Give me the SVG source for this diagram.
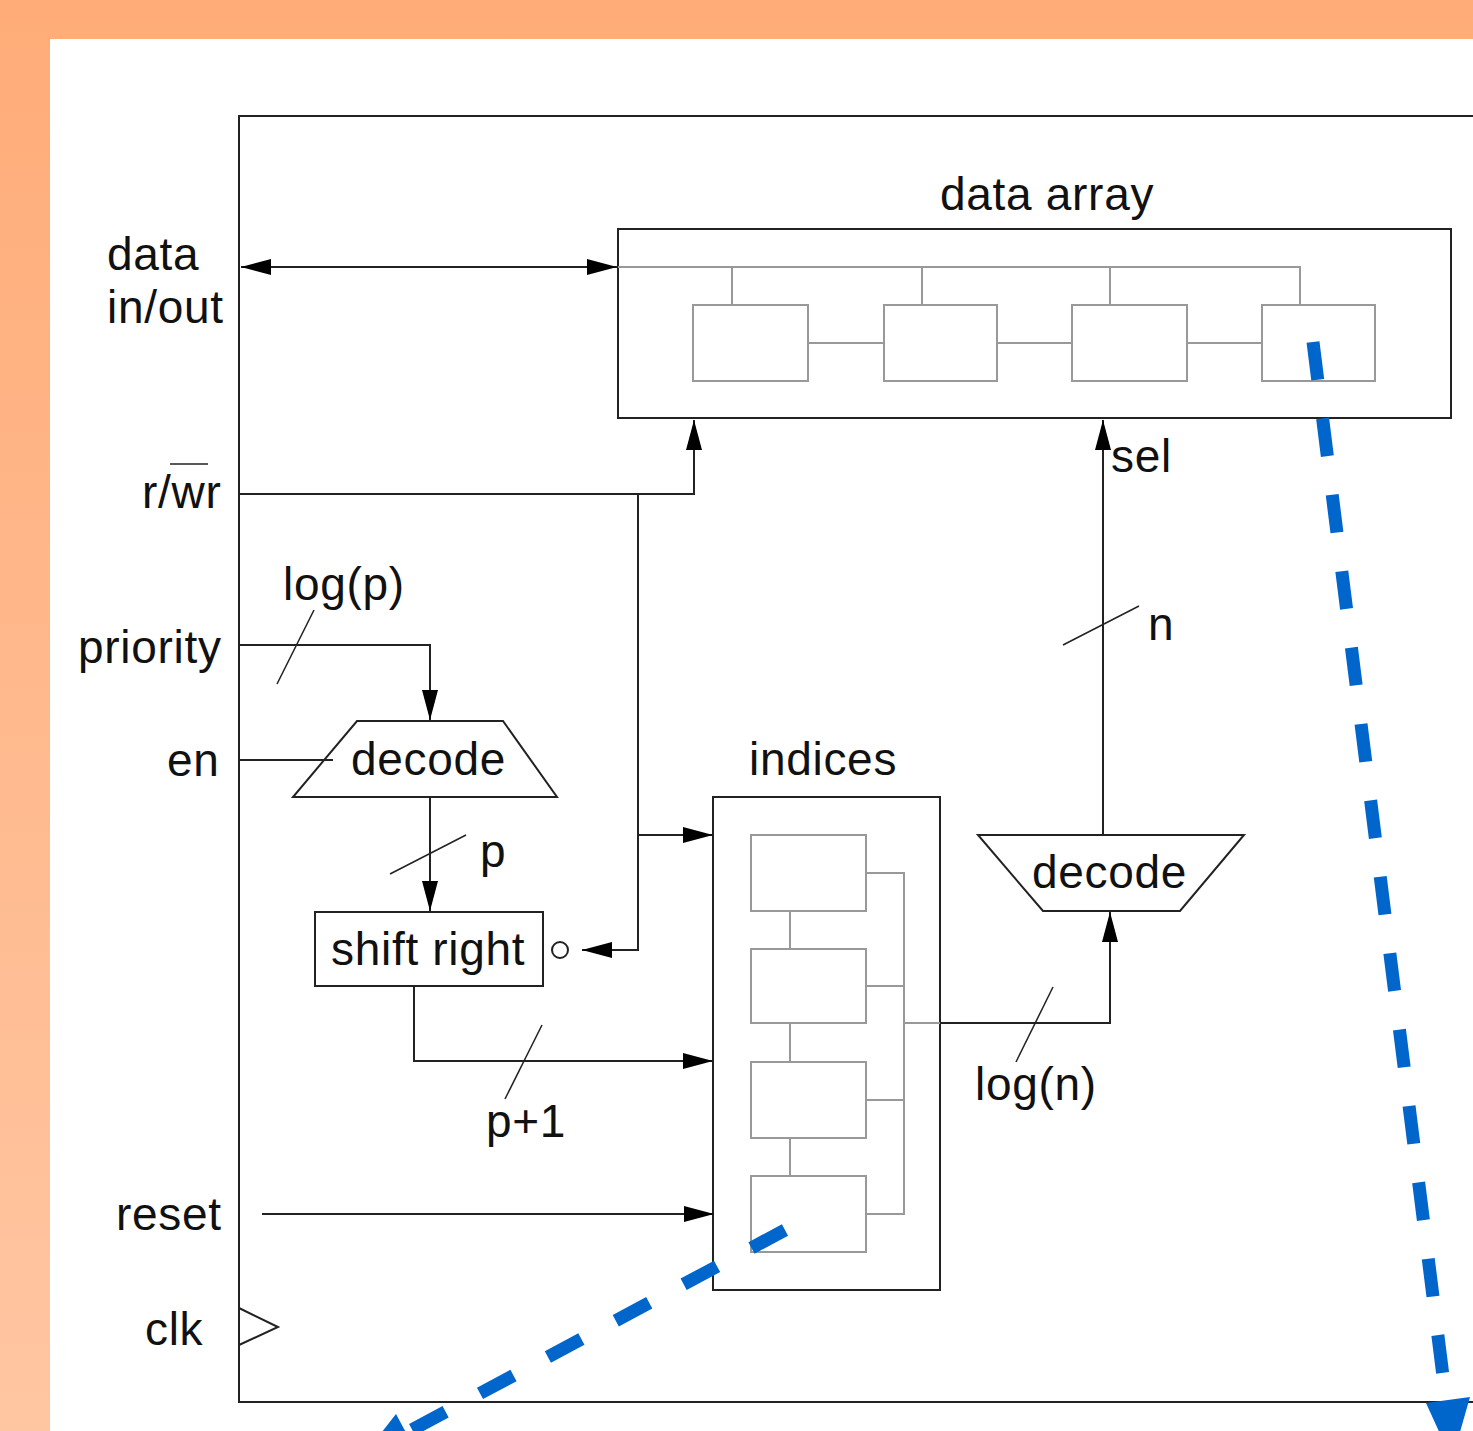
<svg xmlns="http://www.w3.org/2000/svg" width="1473" height="1431" viewBox="0 0 1473 1431">
<style>
.t{font-family:"Liberation Sans",Arial,sans-serif;font-size:46px;letter-spacing:0.7px;fill:#111}
.k{fill:none;stroke:#222;stroke-width:2}
.g{fill:none;stroke:#999;stroke-width:2}
.cell{fill:#fff;stroke:#999;stroke-width:2}
.blk{fill:#fff;stroke:#222;stroke-width:2}
.sl{stroke:#222;stroke-width:1.5}
.blue{fill:none;stroke:#0066CC;stroke-width:13;stroke-dasharray:38 39}
</style>
<defs>
<linearGradient id="bg" x1="0" y1="0" x2="0" y2="1">
<stop offset="0" stop-color="#FFAC78"/>
<stop offset="1" stop-color="#FFC6A2"/>
</linearGradient>
<marker id="ah" markerUnits="userSpaceOnUse" markerWidth="30" markerHeight="16" refX="30" refY="8" orient="auto-start-reverse" viewBox="0 0 30 16">
<path d="M0,0 L30,8 L0,16 z" fill="#000"/>
</marker>
</defs>
<rect x="0" y="0" width="1473" height="1431" fill="url(#bg)"/>
<rect x="50" y="39" width="1423" height="1392" fill="#fff"/>

<g id="frame">
<rect x="239" y="116" width="1300" height="1286" class="k"/>
<polyline points="239,1308 278,1327 239,1345" class="k"/>
</g>

<g id="data-array">
<rect x="618" y="229" width="833" height="189" class="blk"/>
<polyline points="618,267 1300,267 1300,305" class="g"/>
<line x1="732" y1="267" x2="732" y2="305" class="g"/>
<line x1="922" y1="267" x2="922" y2="305" class="g"/>
<line x1="1110" y1="267" x2="1110" y2="305" class="g"/>
<line x1="808" y1="343" x2="884" y2="343" class="g"/>
<line x1="997" y1="343" x2="1072" y2="343" class="g"/>
<line x1="1187" y1="343" x2="1262" y2="343" class="g"/>
<rect x="693" y="305" width="115" height="76" class="cell"/>
<rect x="884" y="305" width="113" height="76" class="cell"/>
<rect x="1072" y="305" width="115" height="76" class="cell"/>
<rect x="1262" y="305" width="113" height="76" class="cell"/>
<text x="940" y="210" class="t">data array</text>
</g>

<g id="decode-priority">
<polygon points="357,721 503,721 557,797 293,797" class="blk"/>
<text x="351" y="775" class="t">decode</text>
</g>

<g id="shift-right">
<rect x="315" y="912" width="228" height="74" class="blk"/>
<text x="331" y="965" class="t">shift right</text>
<circle cx="560" cy="950" r="8" class="k"/>
</g>

<g id="indices">
<rect x="713" y="797" width="227" height="493" class="blk"/>
<line x1="790" y1="911" x2="790" y2="949" class="g"/>
<line x1="790" y1="1023" x2="790" y2="1062" class="g"/>
<line x1="790" y1="1138" x2="790" y2="1176" class="g"/>
<polyline points="866,873 904,873 904,1214 866,1214" class="g"/>
<line x1="866" y1="986" x2="904" y2="986" class="g"/>
<line x1="866" y1="1100" x2="904" y2="1100" class="g"/>
<line x1="904" y1="1023" x2="940" y2="1023" class="g"/>
<rect x="751" y="835" width="115" height="76" class="cell"/>
<rect x="751" y="949" width="115" height="74" class="cell"/>
<rect x="751" y="1062" width="115" height="76" class="cell"/>
<rect x="751" y="1176" width="115" height="76" class="cell"/>
<text x="749" y="775" class="t">indices</text>
</g>

<g id="decode-index">
<polygon points="978,835 1244,835 1180,911 1043,911" class="blk"/>
<text x="1032" y="888" class="t">decode</text>
</g>

<g id="connectors">
<line x1="241" y1="267" x2="617" y2="267" class="k" marker-start="url(#ah)" marker-end="url(#ah)"/>
<polyline points="239,494 694,494 694,420" class="k" marker-end="url(#ah)"/>
<polyline points="638,494 638,950 582,950" class="k" marker-end="url(#ah)"/>
<line x1="638" y1="835" x2="713" y2="835" class="k" marker-end="url(#ah)"/>
<polyline points="239,645 430,645 430,720" class="k" marker-end="url(#ah)"/>
<line x1="239" y1="760" x2="333" y2="760" class="k"/>
<line x1="430" y1="797" x2="430" y2="911" class="k" marker-end="url(#ah)"/>
<polyline points="414,986 414,1061 713,1061" class="k" marker-end="url(#ah)"/>
<line x1="262" y1="1214" x2="714" y2="1214" class="k" marker-end="url(#ah)"/>
<polyline points="940,1023 1110,1023 1110,912" class="k" marker-end="url(#ah)"/>
<line x1="1103" y1="835" x2="1103" y2="420" class="k" marker-end="url(#ah)"/>
<line x1="277" y1="684" x2="314" y2="610" class="sl"/>
<line x1="390" y1="874" x2="466" y2="835" class="sl"/>
<line x1="505" y1="1099" x2="542" y2="1025" class="sl"/>
<line x1="1063" y1="645" x2="1139" y2="606" class="sl"/>
<line x1="1016" y1="1062" x2="1053" y2="987" class="sl"/>
</g>

<g id="labels">
<text x="107" y="270" class="t">data</text>
<text x="107" y="323" class="t">in/out</text>
<text x="142" y="508" class="t">r/wr</text>
<line x1="170" y1="464" x2="208" y2="464" class="sl"/>
<text x="283" y="600" class="t">log(p)</text>
<text x="78" y="663" class="t">priority</text>
<text x="167" y="776" class="t">en</text>
<text x="480" y="867" class="t">p</text>
<text x="1111" y="472" class="t">sel</text>
<text x="1148" y="640" class="t">n</text>
<text x="975" y="1100" class="t">log(n)</text>
<text x="486" y="1137" class="t">p+1</text>
<text x="116" y="1230" class="t">reset</text>
<text x="145" y="1345" class="t">clk</text>
</g>

<g id="highlight">
<line x1="1313" y1="342" x2="1446" y2="1400" class="blue"/>
<polygon points="1426,1403 1470,1397 1452,1460" fill="#0066CC"/>
<line x1="785" y1="1230" x2="406" y2="1433" class="blue"/>
<polygon points="396,1414 417,1453 360,1460" fill="#0066CC"/>
</g>
</svg>
